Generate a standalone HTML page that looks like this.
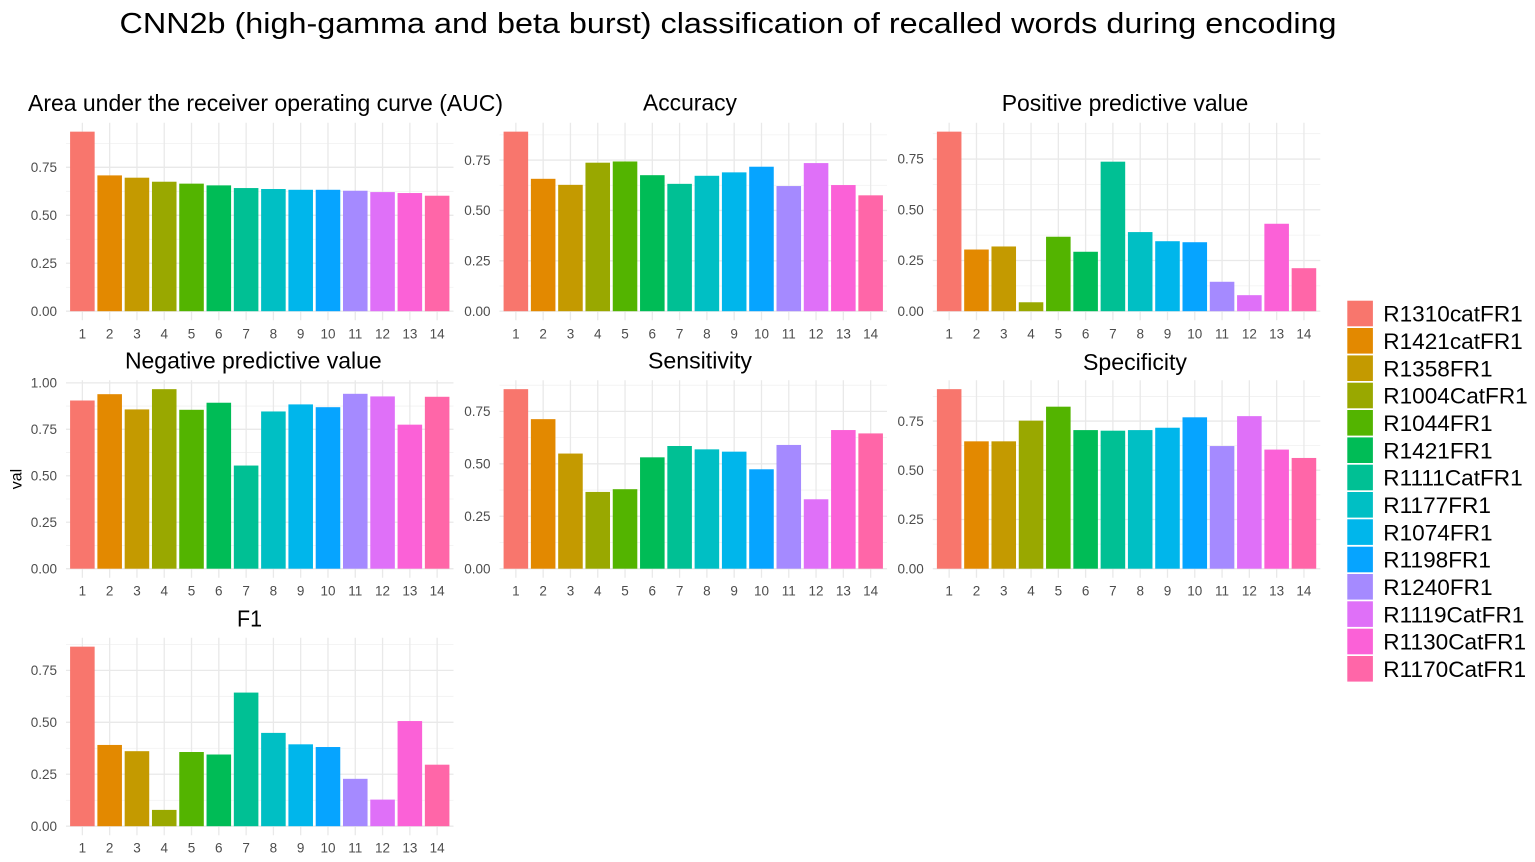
<!DOCTYPE html>
<html><head><meta charset="utf-8"><style>
html,body{margin:0;padding:0;background:#fff;}
svg{display:block;}
text{font-family:"Liberation Sans",Arial,sans-serif;}
.t{font-size:13.5px;fill:#4d4d4d;}
.ye{text-anchor:end;}
.xm{text-anchor:middle;}
.ti{font-size:23px;fill:#000;text-anchor:middle;}
.lg{font-size:22.6px;fill:#000;}
.mj{stroke:#e9e9e9;stroke-width:1.3;}
.mn{stroke:#f1f1f1;stroke-width:0.8;}
</style></head><body>
<svg width="1535" height="862" viewBox="0 0 1535 862" xmlns="http://www.w3.org/2000/svg">
<rect width="1535" height="862" fill="#fff"/>
<defs>
<g id="vg">
<line class="mj" x1="16.37" y1="-188.5" x2="16.37" y2="9"/>
<line class="mj" x1="43.66" y1="-188.5" x2="43.66" y2="9"/>
<line class="mj" x1="70.95" y1="-188.5" x2="70.95" y2="9"/>
<line class="mj" x1="98.24" y1="-188.5" x2="98.24" y2="9"/>
<line class="mj" x1="125.53" y1="-188.5" x2="125.53" y2="9"/>
<line class="mj" x1="152.82" y1="-188.5" x2="152.82" y2="9"/>
<line class="mj" x1="180.11" y1="-188.5" x2="180.11" y2="9"/>
<line class="mj" x1="207.40" y1="-188.5" x2="207.40" y2="9"/>
<line class="mj" x1="234.69" y1="-188.5" x2="234.69" y2="9"/>
<line class="mj" x1="261.98" y1="-188.5" x2="261.98" y2="9"/>
<line class="mj" x1="289.27" y1="-188.5" x2="289.27" y2="9"/>
<line class="mj" x1="316.56" y1="-188.5" x2="316.56" y2="9"/>
<line class="mj" x1="343.85" y1="-188.5" x2="343.85" y2="9"/>
<line class="mj" x1="371.14" y1="-188.5" x2="371.14" y2="9"/>
</g>
</defs>

<text x="728" y="33" font-size="28.5" fill="#000" text-anchor="middle" textLength="1217" lengthAdjust="spacingAndGlyphs">CNN2b (high-gamma and beta burst) classification of recalled words during encoding</text>

<text class="ti" x="265.5" y="110.8" textLength="475" lengthAdjust="spacingAndGlyphs">Area under the receiver operating curve (AUC)</text>
<text class="ti" x="690" y="110.5" textLength="94" lengthAdjust="spacingAndGlyphs">Accuracy</text>
<text class="ti" x="1125" y="110.8" textLength="246.6" lengthAdjust="spacingAndGlyphs">Positive predictive value</text>
<text class="ti" x="253.3" y="368.3" textLength="256.7" lengthAdjust="spacingAndGlyphs">Negative predictive value</text>
<text class="ti" x="700" y="368.3" textLength="104" lengthAdjust="spacingAndGlyphs">Sensitivity</text>
<text class="ti" x="1135" y="370" textLength="104" lengthAdjust="spacingAndGlyphs">Specificity</text>
<text class="ti" x="249.5" y="626.7" textLength="25" lengthAdjust="spacingAndGlyphs">F1</text>

<text x="0" y="0" font-size="16" fill="#000" text-anchor="middle" transform="translate(21.5,479) rotate(-90)">val</text>

<!-- P1 AUC -->
<g transform="translate(66,311.2)">
<line class="mn" x1="0" x2="387.5" y1="-23.98" y2="-23.98"/>
<line class="mn" x1="0" x2="387.5" y1="-71.93" y2="-71.93"/>
<line class="mn" x1="0" x2="387.5" y1="-119.89" y2="-119.89"/>
<line class="mn" x1="0" x2="387.5" y1="-167.84" y2="-167.84"/>
<line class="mj" x1="0" x2="387.5" y1="0" y2="0"/>
<line class="mj" x1="0" x2="387.5" y1="-47.96" y2="-47.96"/>
<line class="mj" x1="0" x2="387.5" y1="-95.91" y2="-95.91"/>
<line class="mj" x1="0" x2="387.5" y1="-143.87" y2="-143.87"/>
<use href="#vg"/>
<rect x="4.09" width="24.56" y="-179.54" height="179.54" fill="#F8766D"/>
<rect x="31.38" width="24.56" y="-135.81" height="135.81" fill="#E38900"/>
<rect x="58.67" width="24.56" y="-133.51" height="133.51" fill="#C49A00"/>
<rect x="85.96" width="24.56" y="-129.48" height="129.48" fill="#99A800"/>
<rect x="113.25" width="24.56" y="-127.56" height="127.56" fill="#53B400"/>
<rect x="140.54" width="24.56" y="-125.83" height="125.83" fill="#00BC56"/>
<rect x="167.83" width="24.56" y="-123.15" height="123.15" fill="#00C094"/>
<rect x="195.12" width="24.56" y="-122.19" height="122.19" fill="#00BFC4"/>
<rect x="222.41" width="24.56" y="-121.42" height="121.42" fill="#00B6EB"/>
<rect x="249.70" width="24.56" y="-121.42" height="121.42" fill="#06A4FF"/>
<rect x="276.99" width="24.56" y="-120.46" height="120.46" fill="#A58AFF"/>
<rect x="304.28" width="24.56" y="-119.12" height="119.12" fill="#DF70F8"/>
<rect x="331.57" width="24.56" y="-118.16" height="118.16" fill="#FB61D7"/>
<rect x="358.86" width="24.56" y="-115.48" height="115.48" fill="#FF66A8"/>
<text class="t ye" x="-9" y="4.7">0.00</text>
<text class="t ye" x="-9" y="-43.26">0.25</text>
<text class="t ye" x="-9" y="-91.21">0.50</text>
<text class="t ye" x="-9" y="-139.17">0.75</text>
<text class="t xm" x="16.37" y="27.5">1</text><text class="t xm" x="43.66" y="27.5">2</text><text class="t xm" x="70.95" y="27.5">3</text><text class="t xm" x="98.24" y="27.5">4</text><text class="t xm" x="125.53" y="27.5">5</text><text class="t xm" x="152.82" y="27.5">6</text><text class="t xm" x="180.11" y="27.5">7</text><text class="t xm" x="207.40" y="27.5">8</text><text class="t xm" x="234.69" y="27.5">9</text><text class="t xm" x="261.98" y="27.5">10</text><text class="t xm" x="289.27" y="27.5">11</text><text class="t xm" x="316.56" y="27.5">12</text><text class="t xm" x="343.85" y="27.5">13</text><text class="t xm" x="371.14" y="27.5">14</text>
</g>

<!-- P2 Accuracy -->
<g transform="translate(499.5,311.2)">
<line class="mn" x1="0" x2="387.5" y1="-25.19" y2="-25.19"/>
<line class="mn" x1="0" x2="387.5" y1="-75.57" y2="-75.57"/>
<line class="mn" x1="0" x2="387.5" y1="-125.94" y2="-125.94"/>
<line class="mn" x1="0" x2="387.5" y1="-176.32" y2="-176.32"/>
<line class="mj" x1="0" x2="387.5" y1="0" y2="0"/>
<line class="mj" x1="0" x2="387.5" y1="-50.38" y2="-50.38"/>
<line class="mj" x1="0" x2="387.5" y1="-100.76" y2="-100.76"/>
<line class="mj" x1="0" x2="387.5" y1="-151.13" y2="-151.13"/>
<use href="#vg"/>
<rect x="4.09" width="24.56" y="-179.55" height="179.55" fill="#F8766D"/>
<rect x="31.38" width="24.56" y="-132.39" height="132.39" fill="#E38900"/>
<rect x="58.67" width="24.56" y="-126.35" height="126.35" fill="#C49A00"/>
<rect x="85.96" width="24.56" y="-148.51" height="148.51" fill="#99A800"/>
<rect x="113.25" width="24.56" y="-149.72" height="149.72" fill="#53B400"/>
<rect x="140.54" width="24.56" y="-136.02" height="136.02" fill="#00BC56"/>
<rect x="167.83" width="24.56" y="-127.35" height="127.35" fill="#00C094"/>
<rect x="195.12" width="24.56" y="-135.41" height="135.41" fill="#00BFC4"/>
<rect x="222.41" width="24.56" y="-138.84" height="138.84" fill="#00B6EB"/>
<rect x="249.70" width="24.56" y="-144.48" height="144.48" fill="#06A4FF"/>
<rect x="276.99" width="24.56" y="-125.14" height="125.14" fill="#A58AFF"/>
<rect x="304.28" width="24.56" y="-148.11" height="148.11" fill="#DF70F8"/>
<rect x="331.57" width="24.56" y="-126.15" height="126.15" fill="#FB61D7"/>
<rect x="358.86" width="24.56" y="-115.87" height="115.87" fill="#FF66A8"/>
<text class="t ye" x="-9" y="4.7">0.00</text>
<text class="t ye" x="-9" y="-45.68">0.25</text>
<text class="t ye" x="-9" y="-96.06">0.50</text>
<text class="t ye" x="-9" y="-146.43">0.75</text>
<text class="t xm" x="16.37" y="27.5">1</text><text class="t xm" x="43.66" y="27.5">2</text><text class="t xm" x="70.95" y="27.5">3</text><text class="t xm" x="98.24" y="27.5">4</text><text class="t xm" x="125.53" y="27.5">5</text><text class="t xm" x="152.82" y="27.5">6</text><text class="t xm" x="180.11" y="27.5">7</text><text class="t xm" x="207.40" y="27.5">8</text><text class="t xm" x="234.69" y="27.5">9</text><text class="t xm" x="261.98" y="27.5">10</text><text class="t xm" x="289.27" y="27.5">11</text><text class="t xm" x="316.56" y="27.5">12</text><text class="t xm" x="343.85" y="27.5">13</text><text class="t xm" x="371.14" y="27.5">14</text>
</g>

<!-- P3 PPV -->
<g transform="translate(932.8,311.2)">
<line class="mn" x1="0" x2="387.5" y1="-25.36" y2="-25.36"/>
<line class="mn" x1="0" x2="387.5" y1="-76.08" y2="-76.08"/>
<line class="mn" x1="0" x2="387.5" y1="-126.80" y2="-126.80"/>
<line class="mn" x1="0" x2="387.5" y1="-177.52" y2="-177.52"/>
<line class="mj" x1="0" x2="387.5" y1="0" y2="0"/>
<line class="mj" x1="0" x2="387.5" y1="-50.72" y2="-50.72"/>
<line class="mj" x1="0" x2="387.5" y1="-101.44" y2="-101.44"/>
<line class="mj" x1="0" x2="387.5" y1="-152.16" y2="-152.16"/>
<use href="#vg"/>
<rect x="4.09" width="24.56" y="-179.55" height="179.55" fill="#F8766D"/>
<rect x="31.38" width="24.56" y="-61.68" height="61.68" fill="#E38900"/>
<rect x="58.67" width="24.56" y="-64.72" height="64.72" fill="#C49A00"/>
<rect x="85.96" width="24.56" y="-8.93" height="8.93" fill="#99A800"/>
<rect x="113.25" width="24.56" y="-74.46" height="74.46" fill="#53B400"/>
<rect x="140.54" width="24.56" y="-59.44" height="59.44" fill="#00BC56"/>
<rect x="167.83" width="24.56" y="-149.52" height="149.52" fill="#00C094"/>
<rect x="195.12" width="24.56" y="-79.12" height="79.12" fill="#00BFC4"/>
<rect x="222.41" width="24.56" y="-69.99" height="69.99" fill="#00B6EB"/>
<rect x="249.70" width="24.56" y="-68.98" height="68.98" fill="#06A4FF"/>
<rect x="276.99" width="24.56" y="-29.42" height="29.42" fill="#A58AFF"/>
<rect x="304.28" width="24.56" y="-16.03" height="16.03" fill="#DF70F8"/>
<rect x="331.57" width="24.56" y="-87.44" height="87.44" fill="#FB61D7"/>
<rect x="358.86" width="24.56" y="-43.01" height="43.01" fill="#FF66A8"/>
<text class="t ye" x="-9" y="4.7">0.00</text>
<text class="t ye" x="-9" y="-46.02">0.25</text>
<text class="t ye" x="-9" y="-96.74">0.50</text>
<text class="t ye" x="-9" y="-147.46">0.75</text>
<text class="t xm" x="16.37" y="27.5">1</text><text class="t xm" x="43.66" y="27.5">2</text><text class="t xm" x="70.95" y="27.5">3</text><text class="t xm" x="98.24" y="27.5">4</text><text class="t xm" x="125.53" y="27.5">5</text><text class="t xm" x="152.82" y="27.5">6</text><text class="t xm" x="180.11" y="27.5">7</text><text class="t xm" x="207.40" y="27.5">8</text><text class="t xm" x="234.69" y="27.5">9</text><text class="t xm" x="261.98" y="27.5">10</text><text class="t xm" x="289.27" y="27.5">11</text><text class="t xm" x="316.56" y="27.5">12</text><text class="t xm" x="343.85" y="27.5">13</text><text class="t xm" x="371.14" y="27.5">14</text>
</g>

<!-- P4 NPV -->
<g transform="translate(66,568.7)">
<line class="mn" x1="0" x2="387.5" y1="-23.23" y2="-23.23"/>
<line class="mn" x1="0" x2="387.5" y1="-69.70" y2="-69.70"/>
<line class="mn" x1="0" x2="387.5" y1="-116.16" y2="-116.16"/>
<line class="mn" x1="0" x2="387.5" y1="-162.63" y2="-162.63"/>
<line class="mj" x1="0" x2="387.5" y1="0" y2="0"/>
<line class="mj" x1="0" x2="387.5" y1="-46.47" y2="-46.47"/>
<line class="mj" x1="0" x2="387.5" y1="-92.93" y2="-92.93"/>
<line class="mj" x1="0" x2="387.5" y1="-139.40" y2="-139.40"/>
<line class="mj" x1="0" x2="387.5" y1="-185.86" y2="-185.86"/>
<use href="#vg"/>
<rect x="4.09" width="24.56" y="-168.20" height="168.20" fill="#F8766D"/>
<rect x="31.38" width="24.56" y="-174.52" height="174.52" fill="#E38900"/>
<rect x="58.67" width="24.56" y="-159.28" height="159.28" fill="#C49A00"/>
<rect x="85.96" width="24.56" y="-179.54" height="179.54" fill="#99A800"/>
<rect x="113.25" width="24.56" y="-158.91" height="158.91" fill="#53B400"/>
<rect x="140.54" width="24.56" y="-165.97" height="165.97" fill="#00BC56"/>
<rect x="167.83" width="24.56" y="-103.15" height="103.15" fill="#00C094"/>
<rect x="195.12" width="24.56" y="-157.24" height="157.24" fill="#00BFC4"/>
<rect x="222.41" width="24.56" y="-164.30" height="164.30" fill="#00B6EB"/>
<rect x="249.70" width="24.56" y="-161.51" height="161.51" fill="#06A4FF"/>
<rect x="276.99" width="24.56" y="-174.89" height="174.89" fill="#A58AFF"/>
<rect x="304.28" width="24.56" y="-172.29" height="172.29" fill="#DF70F8"/>
<rect x="331.57" width="24.56" y="-144.04" height="144.04" fill="#FB61D7"/>
<rect x="358.86" width="24.56" y="-171.92" height="171.92" fill="#FF66A8"/>
<text class="t ye" x="-9" y="4.7">0.00</text>
<text class="t ye" x="-9" y="-41.77">0.25</text>
<text class="t ye" x="-9" y="-88.23">0.50</text>
<text class="t ye" x="-9" y="-134.70">0.75</text>
<text class="t ye" x="-9" y="-181.16">1.00</text>
<text class="t xm" x="16.37" y="27">1</text><text class="t xm" x="43.66" y="27">2</text><text class="t xm" x="70.95" y="27">3</text><text class="t xm" x="98.24" y="27">4</text><text class="t xm" x="125.53" y="27">5</text><text class="t xm" x="152.82" y="27">6</text><text class="t xm" x="180.11" y="27">7</text><text class="t xm" x="207.40" y="27">8</text><text class="t xm" x="234.69" y="27">9</text><text class="t xm" x="261.98" y="27">10</text><text class="t xm" x="289.27" y="27">11</text><text class="t xm" x="316.56" y="27">12</text><text class="t xm" x="343.85" y="27">13</text><text class="t xm" x="371.14" y="27">14</text>
</g>

<!-- P5 Sensitivity -->
<g transform="translate(499.5,568.7)">
<line class="mn" x1="0" x2="387.5" y1="-26.22" y2="-26.22"/>
<line class="mn" x1="0" x2="387.5" y1="-78.66" y2="-78.66"/>
<line class="mn" x1="0" x2="387.5" y1="-131.09" y2="-131.09"/>
<line class="mn" x1="0" x2="387.5" y1="-183.53" y2="-183.53"/>
<line class="mj" x1="0" x2="387.5" y1="0" y2="0"/>
<line class="mj" x1="0" x2="387.5" y1="-52.44" y2="-52.44"/>
<line class="mj" x1="0" x2="387.5" y1="-104.88" y2="-104.88"/>
<line class="mj" x1="0" x2="387.5" y1="-157.31" y2="-157.31"/>
<use href="#vg"/>
<rect x="4.09" width="24.56" y="-179.55" height="179.55" fill="#F8766D"/>
<rect x="31.38" width="24.56" y="-149.55" height="149.55" fill="#E38900"/>
<rect x="58.67" width="24.56" y="-115.15" height="115.15" fill="#C49A00"/>
<rect x="85.96" width="24.56" y="-76.77" height="76.77" fill="#99A800"/>
<rect x="113.25" width="24.56" y="-79.50" height="79.50" fill="#53B400"/>
<rect x="140.54" width="24.56" y="-111.38" height="111.38" fill="#00BC56"/>
<rect x="167.83" width="24.56" y="-122.70" height="122.70" fill="#00C094"/>
<rect x="195.12" width="24.56" y="-119.35" height="119.35" fill="#00BFC4"/>
<rect x="222.41" width="24.56" y="-117.04" height="117.04" fill="#00B6EB"/>
<rect x="249.70" width="24.56" y="-99.42" height="99.42" fill="#06A4FF"/>
<rect x="276.99" width="24.56" y="-123.75" height="123.75" fill="#A58AFF"/>
<rect x="304.28" width="24.56" y="-69.43" height="69.43" fill="#DF70F8"/>
<rect x="331.57" width="24.56" y="-138.65" height="138.65" fill="#FB61D7"/>
<rect x="358.86" width="24.56" y="-135.29" height="135.29" fill="#FF66A8"/>
<text class="t ye" x="-9" y="4.7">0.00</text>
<text class="t ye" x="-9" y="-47.74">0.25</text>
<text class="t ye" x="-9" y="-100.18">0.50</text>
<text class="t ye" x="-9" y="-152.61">0.75</text>
<text class="t xm" x="16.37" y="27">1</text><text class="t xm" x="43.66" y="27">2</text><text class="t xm" x="70.95" y="27">3</text><text class="t xm" x="98.24" y="27">4</text><text class="t xm" x="125.53" y="27">5</text><text class="t xm" x="152.82" y="27">6</text><text class="t xm" x="180.11" y="27">7</text><text class="t xm" x="207.40" y="27">8</text><text class="t xm" x="234.69" y="27">9</text><text class="t xm" x="261.98" y="27">10</text><text class="t xm" x="289.27" y="27">11</text><text class="t xm" x="316.56" y="27">12</text><text class="t xm" x="343.85" y="27">13</text><text class="t xm" x="371.14" y="27">14</text>
</g>

<!-- P6 Specificity -->
<g transform="translate(932.8,568.7)">
<line class="mn" x1="0" x2="387.5" y1="-24.61" y2="-24.61"/>
<line class="mn" x1="0" x2="387.5" y1="-73.83" y2="-73.83"/>
<line class="mn" x1="0" x2="387.5" y1="-123.04" y2="-123.04"/>
<line class="mn" x1="0" x2="387.5" y1="-172.26" y2="-172.26"/>
<line class="mj" x1="0" x2="387.5" y1="0" y2="0"/>
<line class="mj" x1="0" x2="387.5" y1="-49.22" y2="-49.22"/>
<line class="mj" x1="0" x2="387.5" y1="-98.44" y2="-98.44"/>
<line class="mj" x1="0" x2="387.5" y1="-147.65" y2="-147.65"/>
<use href="#vg"/>
<rect x="4.09" width="24.56" y="-179.55" height="179.55" fill="#F8766D"/>
<rect x="31.38" width="24.56" y="-127.37" height="127.37" fill="#E38900"/>
<rect x="58.67" width="24.56" y="-127.37" height="127.37" fill="#C49A00"/>
<rect x="85.96" width="24.56" y="-148.05" height="148.05" fill="#99A800"/>
<rect x="113.25" width="24.56" y="-162.02" height="162.02" fill="#53B400"/>
<rect x="140.54" width="24.56" y="-138.60" height="138.60" fill="#00BC56"/>
<rect x="167.83" width="24.56" y="-138.01" height="138.01" fill="#00C094"/>
<rect x="195.12" width="24.56" y="-138.60" height="138.60" fill="#00BFC4"/>
<rect x="222.41" width="24.56" y="-140.96" height="140.96" fill="#00B6EB"/>
<rect x="249.70" width="24.56" y="-151.39" height="151.39" fill="#06A4FF"/>
<rect x="276.99" width="24.56" y="-122.65" height="122.65" fill="#A58AFF"/>
<rect x="304.28" width="24.56" y="-152.57" height="152.57" fill="#DF70F8"/>
<rect x="331.57" width="24.56" y="-119.11" height="119.11" fill="#FB61D7"/>
<rect x="358.86" width="24.56" y="-110.74" height="110.74" fill="#FF66A8"/>
<text class="t ye" x="-9" y="4.7">0.00</text>
<text class="t ye" x="-9" y="-44.52">0.25</text>
<text class="t ye" x="-9" y="-93.74">0.50</text>
<text class="t ye" x="-9" y="-142.95">0.75</text>
<text class="t xm" x="16.37" y="27">1</text><text class="t xm" x="43.66" y="27">2</text><text class="t xm" x="70.95" y="27">3</text><text class="t xm" x="98.24" y="27">4</text><text class="t xm" x="125.53" y="27">5</text><text class="t xm" x="152.82" y="27">6</text><text class="t xm" x="180.11" y="27">7</text><text class="t xm" x="207.40" y="27">8</text><text class="t xm" x="234.69" y="27">9</text><text class="t xm" x="261.98" y="27">10</text><text class="t xm" x="289.27" y="27">11</text><text class="t xm" x="316.56" y="27">12</text><text class="t xm" x="343.85" y="27">13</text><text class="t xm" x="371.14" y="27">14</text>
</g>

<!-- P7 F1 -->
<g transform="translate(66,826.2)">
<line class="mn" x1="0" x2="387.5" y1="-25.98" y2="-25.98"/>
<line class="mn" x1="0" x2="387.5" y1="-77.93" y2="-77.93"/>
<line class="mn" x1="0" x2="387.5" y1="-129.88" y2="-129.88"/>
<line class="mn" x1="0" x2="387.5" y1="-181.83" y2="-181.83"/>
<line class="mj" x1="0" x2="387.5" y1="0" y2="0"/>
<line class="mj" x1="0" x2="387.5" y1="-51.95" y2="-51.95"/>
<line class="mj" x1="0" x2="387.5" y1="-103.91" y2="-103.91"/>
<line class="mj" x1="0" x2="387.5" y1="-155.86" y2="-155.86"/>
<use href="#vg"/>
<rect x="4.09" width="24.56" y="-179.55" height="179.55" fill="#F8766D"/>
<rect x="31.38" width="24.56" y="-81.25" height="81.25" fill="#E38900"/>
<rect x="58.67" width="24.56" y="-75.02" height="75.02" fill="#C49A00"/>
<rect x="85.96" width="24.56" y="-16.31" height="16.31" fill="#99A800"/>
<rect x="113.25" width="24.56" y="-74.19" height="74.19" fill="#53B400"/>
<rect x="140.54" width="24.56" y="-71.69" height="71.69" fill="#00BC56"/>
<rect x="167.83" width="24.56" y="-133.62" height="133.62" fill="#00C094"/>
<rect x="195.12" width="24.56" y="-93.31" height="93.31" fill="#00BFC4"/>
<rect x="222.41" width="24.56" y="-81.88" height="81.88" fill="#00B6EB"/>
<rect x="249.70" width="24.56" y="-79.18" height="79.18" fill="#06A4FF"/>
<rect x="276.99" width="24.56" y="-47.38" height="47.38" fill="#A58AFF"/>
<rect x="304.28" width="24.56" y="-26.60" height="26.60" fill="#DF70F8"/>
<rect x="331.57" width="24.56" y="-105.15" height="105.15" fill="#FB61D7"/>
<rect x="358.86" width="24.56" y="-61.51" height="61.51" fill="#FF66A8"/>
<text class="t ye" x="-9" y="4.7">0.00</text>
<text class="t ye" x="-9" y="-47.25">0.25</text>
<text class="t ye" x="-9" y="-99.21">0.50</text>
<text class="t ye" x="-9" y="-151.16">0.75</text>
<text class="t xm" x="16.37" y="26.5">1</text><text class="t xm" x="43.66" y="26.5">2</text><text class="t xm" x="70.95" y="26.5">3</text><text class="t xm" x="98.24" y="26.5">4</text><text class="t xm" x="125.53" y="26.5">5</text><text class="t xm" x="152.82" y="26.5">6</text><text class="t xm" x="180.11" y="26.5">7</text><text class="t xm" x="207.40" y="26.5">8</text><text class="t xm" x="234.69" y="26.5">9</text><text class="t xm" x="261.98" y="26.5">10</text><text class="t xm" x="289.27" y="26.5">11</text><text class="t xm" x="316.56" y="26.5">12</text><text class="t xm" x="343.85" y="26.5">13</text><text class="t xm" x="371.14" y="26.5">14</text>
</g>

<!-- Legend -->
<g>
<rect x="1347.3" y="300.7" width="25.6" height="25.6" fill="#F8766D"/>
<rect x="1347.3" y="328.0" width="25.6" height="25.6" fill="#E38900"/>
<rect x="1347.3" y="355.4" width="25.6" height="25.6" fill="#C49A00"/>
<rect x="1347.3" y="382.7" width="25.6" height="25.6" fill="#99A800"/>
<rect x="1347.3" y="410.0" width="25.6" height="25.6" fill="#53B400"/>
<rect x="1347.3" y="437.4" width="25.6" height="25.6" fill="#00BC56"/>
<rect x="1347.3" y="464.7" width="25.6" height="25.6" fill="#00C094"/>
<rect x="1347.3" y="492.0" width="25.6" height="25.6" fill="#00BFC4"/>
<rect x="1347.3" y="519.3" width="25.6" height="25.6" fill="#00B6EB"/>
<rect x="1347.3" y="546.7" width="25.6" height="25.6" fill="#06A4FF"/>
<rect x="1347.3" y="574.0" width="25.6" height="25.6" fill="#A58AFF"/>
<rect x="1347.3" y="601.3" width="25.6" height="25.6" fill="#DF70F8"/>
<rect x="1347.3" y="628.7" width="25.6" height="25.6" fill="#FB61D7"/>
<rect x="1347.3" y="656.0" width="25.6" height="25.6" fill="#FF66A8"/>
<text class="lg" x="1383.3" y="321.7">R1310catFR1</text>
<text class="lg" x="1383.3" y="349.0">R1421catFR1</text>
<text class="lg" x="1383.3" y="376.4">R1358FR1</text>
<text class="lg" x="1383.3" y="403.7">R1004CatFR1</text>
<text class="lg" x="1383.3" y="431.0">R1044FR1</text>
<text class="lg" x="1383.3" y="458.4">R1421FR1</text>
<text class="lg" x="1383.3" y="485.7">R1111CatFR1</text>
<text class="lg" x="1383.3" y="513.0">R1177FR1</text>
<text class="lg" x="1383.3" y="540.3">R1074FR1</text>
<text class="lg" x="1383.3" y="567.7">R1198FR1</text>
<text class="lg" x="1383.3" y="595.0">R1240FR1</text>
<text class="lg" x="1383.3" y="622.3">R1119CatFR1</text>
<text class="lg" x="1383.3" y="649.7">R1130CatFR1</text>
<text class="lg" x="1383.3" y="677.0">R1170CatFR1</text>
</g>
</svg>
</body></html>
